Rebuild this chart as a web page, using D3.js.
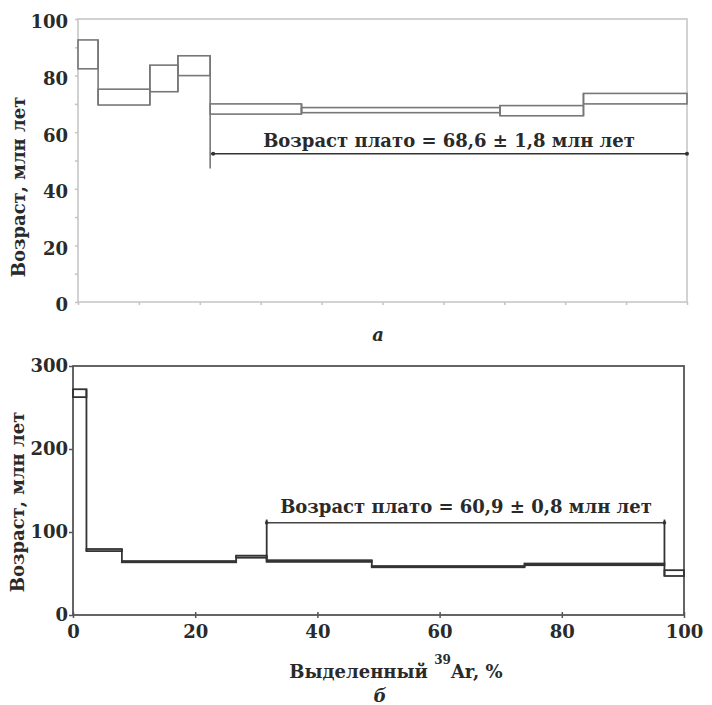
<!DOCTYPE html>
<html>
<head>
<meta charset="utf-8">
<script src="https://cdn.jsdelivr.net/npm/d3@7"></script>
<style>
  body { margin: 0; background: #fff; }
  svg text { font-family: "DejaVu Serif", serif; font-weight: bold; fill: #2a2a2a; }
</style>
</head>
<body>
<div id="chart"></div>
<script>
// panel а: cumulative 39Ar (%) step edges, age lower/upper bounds (Ma)
const stepsA_x = [0, 3.3, 11.8, 16.4, 21.7, 36.7, 69.3, 83.0, 100]
const stepsA_lo = [82.4, 69.6, 74.3, 80.0, 66.4, 66.9, 65.8, 70.0]
const stepsA_hi = [92.6, 75.2, 83.7, 87.0, 70.0, 68.7, 69.4, 73.7]
const plateauA = {from: 21.7, to: 100, level: 52.4, tail: 47.2, label: 'Возраст плато = 68,6 ± 1,8 млн лет'}

// panel б
const stepsB_x = [0, 2.2, 8.0, 26.7, 31.7, 48.9, 73.9, 96.8, 100]
const stepsB_lo = [262.5, 77, 63.5, 69, 64, 57.5, 60, 47]
const stepsB_hi = [272, 79.5, 65, 71.5, 66, 59, 62, 54]
const plateauB = {from: 31.7, to: 96.8, level: 111, label: 'Возраст плато = 60,9 ± 0,8 млн лет'}

const ticksA_y = [0, 20, 40, 60, 80, 100]
const ticksB_y = [0, 100, 200, 300]
const ticksB_x = [0, 20, 40, 60, 80, 100]

const W = 712, H = 705
const FONT = 18
const FAMILY = '"DejaVu Serif", serif'

const svg = d3.select('#chart').append('svg').attr('width', W).attr('height', H)
  .attr('font-family', FAMILY).attr('font-weight', 'bold')

function steps(xs, lo, hi) {
  return lo.map((d, i) => ({x0: xs[i], x1: xs[i + 1], lo: d, hi: hi[i]}))
}

function drawSteps(g, data, x, y, color, sw) {
  g.selectAll('rect.step').data(data).enter().append('rect')
    .attr('x', d => x(d.x0)).attr('width', d => x(d.x1) - x(d.x0))
    .attr('y', d => y(d.hi)).attr('height', d => y(d.lo) - y(d.hi))
    .attr('fill', 'none').attr('stroke', color).attr('stroke-width', sw)
  // connectors between neighbouring steps
  g.selectAll('line.conn').data(data.slice(0, -1)).enter().append('line')
    .attr('x1', d => x(d.x1)).attr('x2', d => x(d.x1))
    .attr('y1', (d, i) => y(Math.max(d.hi, data[i + 1].hi)))
    .attr('y2', (d, i) => y(Math.min(d.lo, data[i + 1].lo)))
    .attr('stroke', color).attr('stroke-width', sw)
}

// ---------- panel а ----------
const xA = d3.scaleLinear().domain([0, 100]).range([78, 687])
const yA = d3.scaleLinear().domain([0, 100]).range([302, 19])
const gA = svg.append('g')
const axisColA = '#c4c4c4'

gA.append('rect').attr('x', xA(0)).attr('y', yA(100)).attr('width', xA(100) - xA(0)).attr('height', yA(0) - yA(100))
  .attr('fill', 'none').attr('stroke', axisColA).attr('stroke-width', 1.5)

gA.append('g').attr('transform', `translate(0,${yA(0)})`)
  .call(d3.axisBottom(xA).tickValues(d3.range(0, 101, 10)).tickSize(3).tickFormat(''))
  .call(g => g.select('.domain').remove())
  .call(g => g.selectAll('line').attr('stroke', axisColA).attr('stroke-width', 1.5))

gA.append('g').attr('transform', `translate(${xA(0)},0)`)
  .call(d3.axisLeft(yA).tickValues(d3.range(0, 101, 10)).tickSize(3).tickFormat(''))
  .call(g => g.select('.domain').remove())
  .call(g => g.selectAll('line').attr('stroke', axisColA).attr('stroke-width', 1.5))

gA.selectAll('text.ylab').data(ticksA_y).enter().append('text')
  .attr('x', 68).attr('y', d => yA(d) + 3).attr('dy', '0.35em')
  .attr('text-anchor', 'end').attr('font-size', FONT).text(d => d)

drawSteps(gA, steps(stepsA_x, stepsA_lo, stepsA_hi), xA, yA, '#777', 1.6)

// plateau marker
gA.append('line').attr('x1', xA(plateauA.from)).attr('x2', xA(plateauA.to))
  .attr('y1', yA(plateauA.level)).attr('y2', yA(plateauA.level)).attr('stroke', '#333').attr('stroke-width', 1.6)
gA.append('line').attr('x1', xA(plateauA.from)).attr('x2', xA(plateauA.from))
  .attr('y1', yA(stepsA_lo[4])).attr('y2', yA(plateauA.tail)).attr('stroke', '#777').attr('stroke-width', 1.6)
gA.selectAll('circle.end').data([plateauA.from + 0.5, plateauA.to]).enter().append('circle')
  .attr('cx', d => xA(d)).attr('cy', yA(plateauA.level)).attr('r', 2).attr('fill', '#333')
gA.append('text').attr('x', 449).attr('y', yA(plateauA.level) - 7)
  .attr('text-anchor', 'middle').attr('font-size', FONT).text(plateauA.label)

gA.append('text').attr('transform', `translate(25,187) rotate(-90)`)
  .attr('text-anchor', 'middle').attr('font-size', FONT).text('Возраст, млн лет')

svg.append('text').attr('x', 378).attr('y', 341).attr('text-anchor', 'middle')
  .attr('font-size', FONT).attr('font-style', 'italic').text('а')

// ---------- panel б ----------
const xB = d3.scaleLinear().domain([0, 100]).range([73, 684])
const yB = d3.scaleLinear().domain([0, 300]).range([615, 366])
const gB = svg.append('g')
const axisColB = '#555'

gB.append('rect').attr('x', xB(0)).attr('y', yB(300)).attr('width', xB(100) - xB(0)).attr('height', yB(0) - yB(300))
  .attr('fill', 'none').attr('stroke', axisColB).attr('stroke-width', 1.8)

gB.append('g').attr('transform', `translate(0,${yB(0)})`)
  .call(d3.axisBottom(xB).tickValues(ticksB_x).tickSizeInner(3).tickSizeOuter(0).tickPadding(7).tickFormat(d => d))
  .attr('font-family', FAMILY)
  .call(g => g.select('.domain').remove())
  .call(g => g.selectAll('line').attr('stroke', axisColB).attr('stroke-width', 1.5).attr('y1', -3))
  .call(g => g.selectAll('text').attr('font-size', FONT).attr('fill', '#2a2a2a'))

gB.append('g').attr('transform', `translate(${xB(0)},0)`)
  .call(d3.axisLeft(yB).tickValues(ticksB_y).tickSizeInner(4).tickSizeOuter(0).tickPadding(1).tickFormat(d => d))
  .attr('font-family', FAMILY)
  .call(g => g.select('.domain').remove())
  .call(g => g.selectAll('line').attr('stroke', axisColB).attr('stroke-width', 1.5))
  .call(g => g.selectAll('text').attr('font-size', FONT).attr('fill', '#2a2a2a'))

drawSteps(gB, steps(stepsB_x, stepsB_lo, stepsB_hi), xB, yB, '#333', 1.8)

// plateau marker
gB.append('line').attr('x1', xB(plateauB.from)).attr('x2', xB(plateauB.to))
  .attr('y1', yB(plateauB.level)).attr('y2', yB(plateauB.level)).attr('stroke', '#444').attr('stroke-width', 1.5)
gB.selectAll('line.pv').data([[plateauB.from, stepsB_hi[4]], [plateauB.to, stepsB_hi[6]]]).enter().append('line')
  .attr('x1', d => xB(d[0])).attr('x2', d => xB(d[0]))
  .attr('y1', yB(plateauB.level + 4)).attr('y2', d => yB(d[1])).attr('stroke', '#333').attr('stroke-width', 1.8)
gB.selectAll('circle.end').data([plateauB.from, plateauB.to]).enter().append('circle')
  .attr('cx', d => xB(d)).attr('cy', yB(plateauB.level)).attr('r', 1.8).attr('fill', '#333')
gB.append('text').attr('x', 466).attr('y', yB(plateauB.level) - 10)
  .attr('text-anchor', 'middle').attr('font-size', FONT).text(plateauB.label)

gB.append('text').attr('transform', `translate(24,502) rotate(-90)`)
  .attr('text-anchor', 'middle').attr('font-size', FONT).text('Возраст, млн лет')

const xl = gB.append('text').attr('x', 396).attr('y', 678).attr('text-anchor', 'middle').attr('font-size', FONT)
xl.append('tspan').text('Выделенный ')
xl.append('tspan').attr('font-size', 12).attr('dy', -14).text('39')
xl.append('tspan').attr('dy', 14).text('Ar, %')

svg.append('text').attr('x', 380).attr('y', 702).attr('text-anchor', 'middle')
  .attr('font-size', FONT).attr('font-style', 'italic').text('б')
</script>
</body>
</html>
